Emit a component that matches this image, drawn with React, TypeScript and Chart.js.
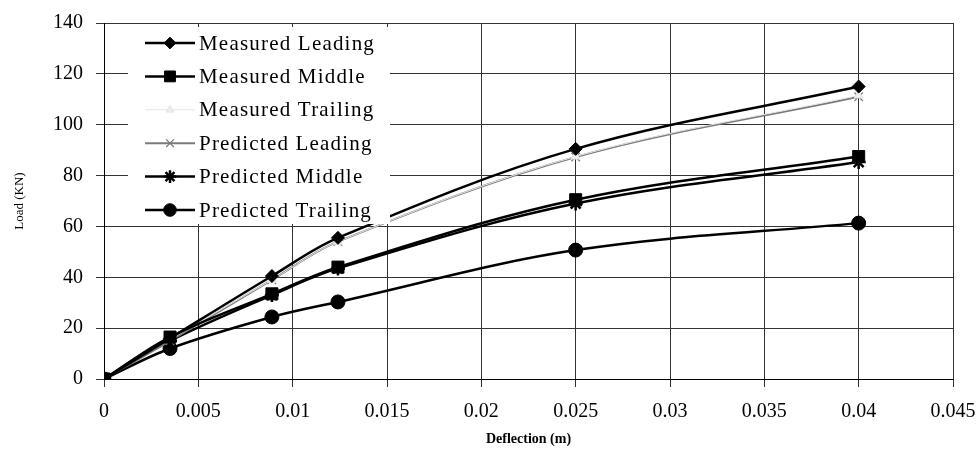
import React, { useEffect, useRef } from "react";
import { Chart, registerables } from "chart.js";
import { drawPoint } from "chart.js/helpers";

Chart.register(...registerables);

const deflection = [0, 0.0035, 0.0089, 0.0124, 0.025, 0.04];
const measuredLeading = [0, 16, 40.5, 55.5, 90.5, 115];
const measuredMiddle = [0, 16.5, 33.5, 44, 70.5, 87.5];
const measuredTrailing = [0, 15.5, 39, 54, 87.5, 111.5];
const predictedLeading = [0, 15, 39, 54, 87.3, 111];
const predictedMiddle = [0, 15, 33, 43.5, 69, 85.3];
const predictedTrailing = [0, 12, 24.4, 30.3, 50.7, 61.3];

const seriesNames = [
  "Measured Leading",
  "Measured Middle",
  "Measured Trailing",
  "Predicted Leading",
  "Predicted Middle",
  "Predicted Trailing",
];
const seriesValues = [
  measuredLeading,
  measuredMiddle,
  measuredTrailing,
  predictedLeading,
  predictedMiddle,
  predictedTrailing,
];

const styles = [
  { color: "#000", width: 2.5, point: "rectRot", radius: 6.5, fill: "#000", pw: 1 },
  { color: "#000", width: 2.5, point: "rect", radius: 8.5, fill: "#000", pw: 1 },
  { color: "#e4e4e4", width: 1, point: "triangle", radius: 5, fill: "#eee", pw: 1 },
  { color: "#7a7a7a", width: 2, point: "crossRot", radius: 6, fill: "#7a7a7a", pw: 1.2 },
  { color: "#000", width: 2.5, point: "star", radius: 7, fill: "#000", pw: 2.5 },
  { color: "#000", width: 2.5, point: "circle", radius: 7, fill: "#000", pw: 1 },
];

const FONT = "'Liberation Serif', 'Times New Roman', serif";

const legendPlugin = {
  id: "innerLegend",
  afterDraw(chart: any) {
    const ctx = chart.ctx;
    const area = chart.chartArea;
    const x0 = area.left + 24;
    const y0 = area.top + 4;
    ctx.save();
    ctx.fillStyle = "#fff";
    ctx.fillRect(x0, y0, 262, 197);
    const rowH = 33.4;
    seriesNames.forEach((name, i) => {
      const s = styles[i];
      const cy = y0 + 16 + i * rowH;
      ctx.strokeStyle = s.color;
      ctx.lineWidth = s.width;
      ctx.beginPath();
      ctx.moveTo(x0 + 17, cy);
      ctx.lineTo(x0 + 67, cy);
      ctx.stroke();
      ctx.fillStyle = s.fill;
      ctx.strokeStyle = s.color;
      ctx.lineWidth = s.pw;
      drawPoint(ctx, { pointStyle: s.point, radius: s.radius * 0.9, rotation: 0, borderWidth: s.pw }, x0 + 42, cy);
      ctx.fillStyle = "#000";
      ctx.font = `21px ${FONT}`;
      try {
        (ctx as any).letterSpacing = "1.2px";
      } catch (e) {}
      ctx.textBaseline = "middle";
      ctx.textAlign = "left";
      ctx.fillText(name, x0 + 71, cy + 1);
      try {
        (ctx as any).letterSpacing = "0px";
      } catch (e) {}
    });
    ctx.restore();
  },
};

export default function App() {
  const ref = useRef<HTMLCanvasElement>(null);
  useEffect(() => {
    if (!ref.current) return;
    const datasets = seriesNames.map((name, i) => {
      const s = styles[i];
      return {
        label: name,
        data: deflection.map((x, j) => ({ x, y: seriesValues[i][j] })),
        borderColor: s.color,
        backgroundColor: s.fill,
        borderWidth: s.width,
        pointStyle: s.point,
        pointRadius: s.radius,
        pointBorderWidth: s.pw,
        pointBorderColor: s.color,
        pointBackgroundColor: s.fill,
        tension: 0.35,
        showLine: true,
      };
    });
    const chart = new Chart(ref.current, {
      type: "scatter",
      data: { datasets } as any,
      options: {
        responsive: false,
        animation: false,
        layout: { padding: { top: 23, right: 27, left: 0, bottom: 0 } },
        plugins: { legend: { display: false }, tooltip: { enabled: false } },
        scales: {
          x: {
            type: "linear",
            min: 0,
            max: 0.045,
            ticks: {
              stepSize: 0.005,
              color: "#000",
              font: { family: FONT, size: 20 },
              padding: 13,
              maxRotation: 0,
              callback: (v: any) => String(Number(Number(v).toFixed(3))),
            },
            grid: { color: "#333", lineWidth: 1, tickLength: 8, tickColor: "#333" },
            border: { color: "#000", width: 1 },
            title: {
              display: true,
              text: "Deflection (m)",
              color: "#000",
              font: { family: FONT, size: 14, weight: "bold" },
              padding: { top: 0, bottom: 7 },
            },
            afterFit: (scale: any) => {
              scale.height = 76;
              scale.paddingRight = 0;
              scale.paddingLeft = 0;
            },
          },
          y: {
            min: 0,
            max: 140,
            ticks: {
              stepSize: 20,
              color: "#000",
              font: { family: FONT, size: 20 },
              padding: 13,
            },
            grid: { color: "#333", lineWidth: 1, tickLength: 8, tickColor: "#333" },
            border: { color: "#000", width: 1 },
            title: {
              display: true,
              text: "Load (KN)",
              color: "#000",
              font: { family: FONT, size: 13 },
              padding: { top: 12, bottom: 0 },
            },
            afterFit: (scale: any) => {
              scale.width = 104;
              scale.paddingTop = 0;
              scale.paddingBottom = 0;
            },
          },
        },
      },
      plugins: [legendPlugin],
    } as any);
    return () => chart.destroy();
  }, []);
  return (
    <div style={{ position: "absolute", left: 0, top: 0, width: 980, height: 455, background: "#fff" }}>
      <canvas ref={ref} width={980} height={455} />
    </div>
  );
}
